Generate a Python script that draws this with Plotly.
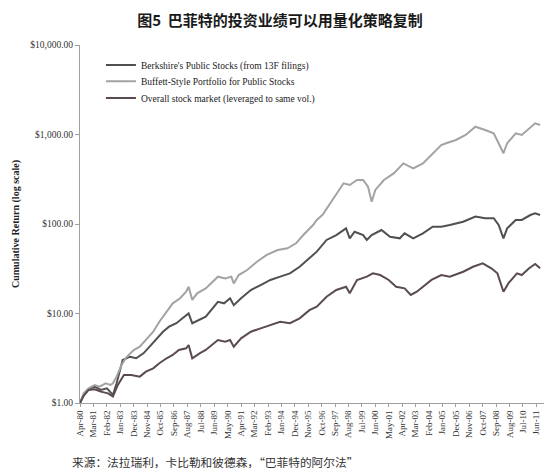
import pandas as pd
import plotly.graph_objects as go

# month tick labels on the x axis (every 11 months)
x_labels = ["Apr-80", "Mar-81", "Feb-82", "Jan-83", "Dec-83", "Nov-84", "Oct-85", "Sep-86",
            "Aug-87", "Jul-88", "Jun-89", "May-90", "Apr-91", "Mar-92", "Feb-93", "Jan-94",
            "Dec-94", "Nov-95", "Oct-96", "Sep-97", "Aug-98", "Jul-99", "Jun-00", "May-01",
            "Apr-02", "Mar-03", "Feb-04", "Jan-05", "Dec-05", "Nov-06", "Oct-07", "Sep-08",
            "Aug-09", "Jul-10", "Jun-11"]

y_ticks = [1, 10, 100, 1000, 10000]
y_labels = ["$1.00", "$10.00", "$100.00", "$1,000.00", "$10,000.00"]

# Berkshire's public stocks (13F)
bk_dates = ["1980-04", "1980-07", "1980-11", "1981-04", "1981-09", "1982-02", "1982-07", "1982-10",
            "1983-03", "1983-09", "1984-02", "1984-08", "1985-01", "1985-07", "1985-12", "1986-05",
            "1986-11", "1987-04", "1987-09", "1987-12", "1988-06", "1988-11", "1989-09", "1990-02",
            "1990-07", "1990-10", "1991-04", "1991-12", "1992-08", "1993-04", "1993-12", "1994-08",
            "1995-04", "1995-12", "1996-06", "1997-02", "1997-10", "1998-06", "1998-09", "1999-01",
            "1999-08", "1999-11", "2000-03", "2000-11", "2001-06", "2002-02", "2002-06", "2003-01",
            "2003-09", "2004-05", "2004-12", "2005-07", "2006-06", "2007-04", "2007-12", "2008-07",
            "2008-11", "2009-03", "2009-06", "2010-01", "2010-06", "2011-01", "2011-05", "2011-09"]
bk_vals = [1.00, 1.23, 1.42, 1.52, 1.40, 1.46, 1.23, 1.66,
           3.02, 3.29, 3.16, 3.59, 4.26, 5.28, 6.26, 7.12,
           7.78, 8.84, 10.0, 7.78, 8.46, 9.21, 13.5, 13.0,
           14.8, 12.4, 14.8, 18.3, 20.8, 23.7, 25.8, 28.1,
           33.3, 41.4, 49.1, 66.3, 75.3, 89.5, 69.2, 82.0,
           75.3, 66.3, 75.3, 85.7, 72.1, 69.2, 78.7, 69.2,
           78.7, 93.3, 93.3, 97.5, 106, 121, 116, 116,
           97.5, 69.2, 89.5, 111, 111, 126, 132, 126]

# Buffett-style portfolio
bsp_dates = ["1980-04", "1980-07", "1980-11", "1981-04", "1981-08", "1982-01", "1982-05", "1982-07",
             "1982-10", "1983-02", "1983-06", "1983-12", "1984-05", "1984-10", "1985-04", "1985-09",
             "1986-03", "1986-08", "1987-02", "1987-07", "1987-09", "1987-12", "1988-04", "1988-11",
             "1989-09", "1990-03", "1990-08", "1990-10", "1991-02", "1991-09", "1992-05", "1993-01",
             "1993-10", "1994-06", "1995-01", "1995-07", "1996-03", "1996-06", "1996-11", "1997-08",
             "1998-04", "1998-09", "1999-03", "1999-08", "1999-12", "2000-03", "2000-06", "2001-01",
             "2001-09", "2002-05", "2003-01", "2003-09", "2004-05", "2004-12", "2005-04", "2005-12",
             "2006-08", "2007-04", "2007-12", "2008-07", "2008-11", "2009-03", "2009-06", "2010-01",
             "2010-06", "2010-12", "2011-05", "2011-09"]
bsp_vals = [1.00, 1.28, 1.46, 1.59, 1.52, 1.66, 1.59, 1.66,
            1.97, 2.66, 3.24, 3.91, 4.26, 5.06, 6.26, 8.10,
            10.5, 13.0, 14.8, 17.5, 19.9, 14.2, 16.8, 19.1,
            25.8, 24.7, 25.8, 21.7, 26.9, 30.6, 37.9, 45.1,
            51.2, 53.5, 60.8, 75.3, 97.5, 111, 128, 194,
            285, 273, 310, 310, 261, 177, 240, 310,
            368, 476, 419, 476, 616, 763, 798, 869,
            987, 1222, 1122, 1031, 798, 617, 798, 1031,
            987, 1173, 1334, 1277]

# overall stock market, leveraged
mkt_dates = ["1980-04", "1980-07", "1980-11", "1981-04", "1981-09", "1982-03", "1982-07", "1982-11",
             "1983-04", "1983-10", "1984-05", "1984-10", "1985-04", "1985-09", "1986-03", "1986-08",
             "1987-01", "1987-07", "1987-09", "1987-12", "1988-06", "1988-11", "1989-09", "1990-03",
             "1990-07", "1990-10", "1991-04", "1991-12", "1992-08", "1993-04", "1993-12", "1994-08",
             "1995-04", "1995-12", "1996-06", "1997-02", "1997-10", "1998-06", "1998-09", "1999-03",
             "1999-11", "2000-04", "2000-10", "2001-05", "2001-11", "2002-06", "2002-11", "2003-04",
             "2003-09", "2004-04", "2004-12", "2005-07", "2006-06", "2007-02", "2007-10", "2008-05",
             "2008-10", "2009-03", "2009-07", "2010-02", "2010-06", "2010-12", "2011-05", "2011-09"]
mkt_vals = [1.00, 1.20, 1.40, 1.42, 1.34, 1.28, 1.18, 1.59,
            2.06, 2.06, 1.97, 2.24, 2.44, 2.78, 3.16, 3.44,
            3.91, 4.08, 4.45, 3.16, 3.59, 3.91, 5.06, 4.84,
            5.06, 4.26, 5.28, 6.26, 6.83, 7.44, 8.10, 7.78,
            8.84, 10.9, 11.9, 15.4, 18.3, 19.9, 16.8, 23.7,
            25.8, 28.1, 26.9, 23.7, 19.9, 19.1, 16.1, 17.5,
            19.9, 23.7, 26.9, 25.8, 29.3, 33.3, 36.4, 32.0,
            28.1, 17.5, 21.7, 28.1, 26.9, 32.0, 35.7, 32.0]

serif = "Liberation Serif"
cjk = "Noto Sans CJK SC"

# page body has an 8px margin, so the figure is sized/placed to compensate
W, H = 544, 466

fig = go.Figure()
fig.add_trace(go.Scatter(x=pd.to_datetime(bk_dates), y=bk_vals, mode="lines",
                         name="Berkshire's Public Stocks (from 13F filings)",
                         line=dict(color="#505050", width=2), legend="legend"))
fig.add_trace(go.Scatter(x=pd.to_datetime(bsp_dates), y=bsp_vals, mode="lines",
                         name="Buffett-Style Portfolio for Public Stocks",
                         line=dict(color="#a3a3a3", width=2), legend="legend2"))
fig.add_trace(go.Scatter(x=pd.to_datetime(mkt_dates), y=mkt_vals, mode="lines",
                         name="Overall stock market (leveraged to same vol.)",
                         line=dict(color="#5a4b4e", width=2), legend="legend3"))

legend_style = dict(x=0.045, xanchor="left", yanchor="middle",
                    bgcolor="rgba(0,0,0,0)", itemwidth=30,
                    font=dict(family=serif, size=9.5, color="#222"))

fig.update_layout(
    width=W, height=H,
    margin=dict(l=68, r=7, t=37, b=71),
    paper_bgcolor="white", plot_bgcolor="white",
    title=dict(text="<b>图5  巴菲特的投资业绩可以用量化策略复制</b>",
               font=dict(family=cjk, size=15, color="#1a1a1a"),
               x=0.5, xanchor="center", y=1 - 13 / H, yanchor="middle"),
    showlegend=True,
    legend=dict(y=0.944, **legend_style),
    legend2=dict(y=0.899, **legend_style),
    legend3=dict(y=0.852, **legend_style),
    xaxis=dict(
        type="date",
        range=["1980-04-01", "2012-01-01"],
        tickvals=pd.to_datetime(x_labels, format="%b-%y"),
        ticktext=x_labels,
        tickangle=-90,
        tickfont=dict(family=serif, size=9, color="#333"),
        showgrid=False, zeroline=False,
        showline=True, linecolor="#a0a0a0", linewidth=1,
        ticks="outside", ticklen=3, tickcolor="#a0a0a0",
    ),
    yaxis=dict(
        type="log",
        range=[0, 4],
        tickvals=y_ticks,
        ticktext=y_labels,
        tickfont=dict(family=serif, size=9.5, color="#333"),
        showgrid=False, zeroline=False,
        showline=True, linecolor="#a0a0a0", linewidth=1,
        ticks="outside", ticklen=4, tickcolor="#a0a0a0",
        title=dict(text="<b>Cumulative Return (log scale)</b>",
                   font=dict(family=serif, size=10, color="#222"), standoff=8),
    ),
)

fig.add_annotation(text="来源：法拉瑞利，卡比勒和彼德森，“巴菲特的阿尔法”",
                   xref="paper", yref="paper", x=-0.022, y=-59 / 358,
                   xanchor="left", yanchor="middle", showarrow=False,
                   font=dict(family=cjk, size=11.7, color="#333"))

fig.write_html("out.html")
